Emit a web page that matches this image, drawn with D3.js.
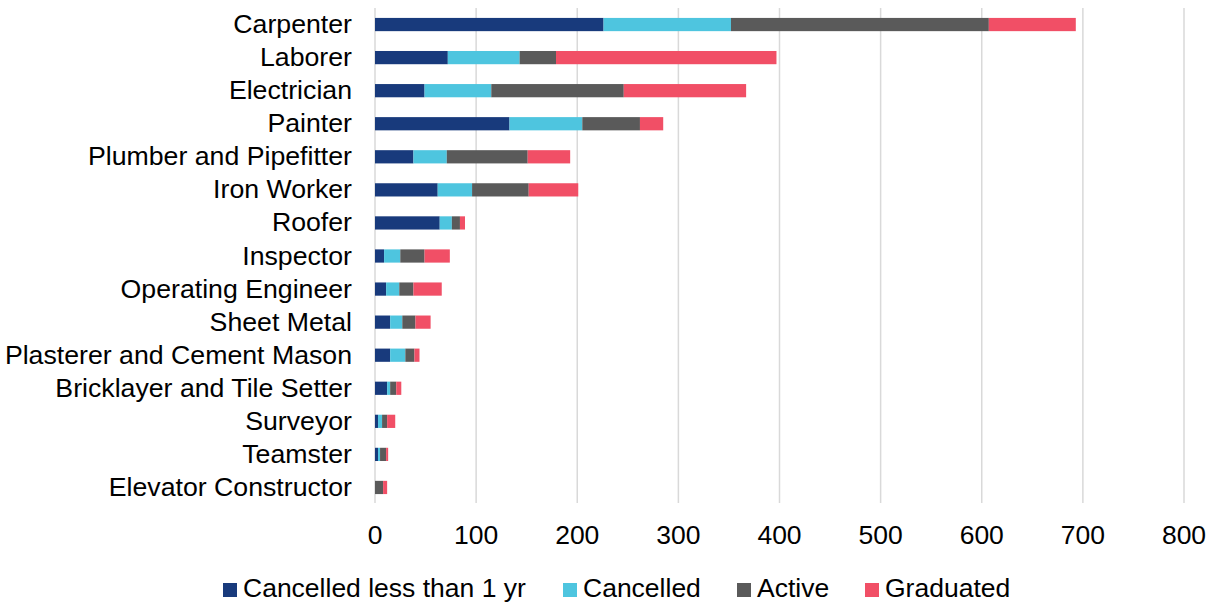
<!DOCTYPE html>
<html>
<head>
<meta charset="utf-8">
<script src="https://cdn.jsdelivr.net/npm/d3@7"></script>
<style>
  html, body { margin: 0; padding: 0; background: #fff; }
  svg { display: block; }
  text { font-family: "Liberation Sans", Arial, sans-serif; fill: #000; }
</style>
</head>
<body>
<svg id="chart" width="1214" height="603"></svg>
<script>
const categories = ["Carpenter", "Laborer", "Electrician", "Painter", "Plumber and Pipefitter",
  "Iron Worker", "Roofer", "Inspector", "Operating Engineer", "Sheet Metal",
  "Plasterer and Cement Mason", "Bricklayer and Tile Setter", "Surveyor", "Teamster",
  "Elevator Constructor"];
const seriesNames = ["Cancelled less than 1 yr", "Cancelled", "Active", "Graduated"];
const cancelledLess1 = [226, 72, 49, 133, 38, 62, 64, 9, 11, 15, 15, 12, 3, 3, 0];
const cancelled      = [126, 71, 66, 72, 33, 34, 12, 16, 13, 12, 15, 3, 4, 2, 0];
const active         = [255, 36, 131, 57, 80, 56, 8, 24, 14, 13, 9, 6, 5, 6, 8];
const graduated      = [86, 218, 121, 23, 42, 49, 5, 25, 28, 15, 5, 5, 8, 2, 4];
const tickValues = [0, 100, 200, 300, 400, 500, 600, 700, 800];
const colors = ["#183A7C", "#4EC5DF", "#5A5A5A", "#F14F66"];

const svg = d3.select("#chart");
const x = d3.scaleLinear().domain([0, 800]).range([375, 1184]);
const y = d3.scaleBand().domain(categories).range([8, 504]).paddingInner(0.6).paddingOuter(0.3);

const table = categories.map((c, i) => ({
  cat: c,
  [seriesNames[0]]: cancelledLess1[i],
  [seriesNames[1]]: cancelled[i],
  [seriesNames[2]]: active[i],
  [seriesNames[3]]: graduated[i]
}));
const stacked = d3.stack().keys(seriesNames)(table);

// gridlines
svg.append("g").selectAll("line").data(tickValues).join("line")
  .attr("x1", d => x(d)).attr("x2", d => x(d))
  .attr("y1", 8).attr("y2", 503)
  .attr("stroke", "#d9d9d9").attr("stroke-width", 1.5);

// bars
svg.append("g").selectAll("g").data(stacked).join("g")
  .attr("fill", (d, i) => colors[i])
  .selectAll("rect").data(d => d).join("rect")
  .attr("x", d => x(d[0]))
  .attr("width", d => Math.max(0, x(d[1]) - x(d[0])))
  .attr("y", d => y(d.data.cat))
  .attr("height", y.bandwidth());

// category labels
svg.append("g").selectAll("text").data(categories).join("text")
  .attr("x", 352).attr("y", d => y(d) + y.bandwidth() / 2)
  .attr("dy", "0.32em")
  .attr("text-anchor", "end")
  .attr("font-size", "26.7px")
  .text(d => d);

// x-axis tick labels
svg.append("g").selectAll("text").data(tickValues).join("text")
  .attr("x", d => x(d)).attr("y", 544)
  .attr("text-anchor", "middle")
  .attr("font-size", "26.5px")
  .text(d => d);

// legend
const legendX = [223, 563, 737, 865];
const lg = svg.append("g").selectAll("g").data(seriesNames).join("g")
  .attr("transform", (d, i) => `translate(${legendX[i]},0)`);
lg.append("rect").attr("x", 0).attr("y", 583).attr("width", 14).attr("height", 14)
  .attr("fill", (d, i) => colors[i]);
lg.append("text").attr("x", 20).attr("y", 597)
  .attr("font-size", "26.5px")
  .text(d => d);
</script>
</body>
</html>
